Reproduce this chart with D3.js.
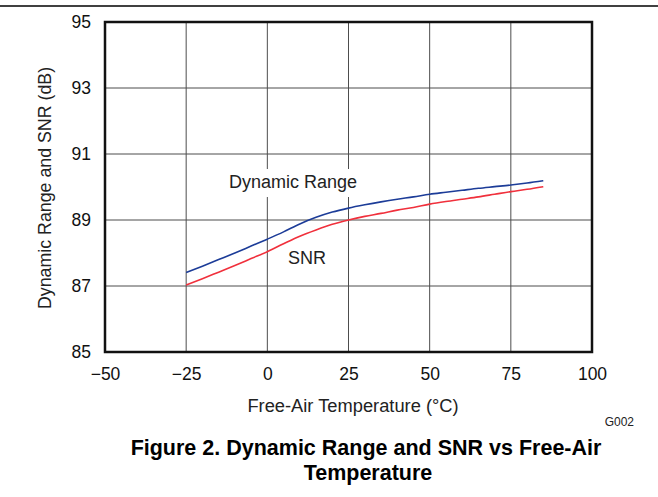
<!DOCTYPE html>
<html><head><meta charset="utf-8">
<script src="https://cdn.jsdelivr.net/npm/d3@7"></script>
<style>body{margin:0;background:#fff}svg{display:block}</style>
</head><body>
<svg id="c" width="658" height="497"></svg>
<script>
const temps = [-25,-20,-15,-10,-5,0,5,10,15,20,25,30,35,40,45,50,55,60,65,70,75,80,85];
const dynamicRange = [87.41,87.6,87.8,88.0,88.21,88.42,88.64,88.88,89.08,89.24,89.36,89.46,89.55,89.63,89.7,89.78,89.84,89.9,89.96,90.01,90.06,90.12,90.19];
const snr = [87.03,87.22,87.42,87.62,87.83,88.04,88.28,88.51,88.7,88.87,89.0,89.11,89.2,89.3,89.38,89.48,89.56,89.63,89.7,89.78,89.86,89.93,90.01];
const xTicks = [-50,-25,0,25,50,75,100];
const yTicks = [85,87,89,91,93,95];

const svg = d3.select("#c");
const F = "'Liberation Sans', Arial, sans-serif";
const L = 105, R = 592, T = 22, B = 352;
const x = d3.scaleLinear().domain([-50,100]).range([L,R]);
const y = d3.scaleLinear().domain([85,95]).range([B,T]);

svg.append("line").attr("x1",0).attr("x2",658).attr("y1",6).attr("y2",6)
  .attr("stroke","#000").attr("stroke-width",1.5);

// grid
svg.append("g").selectAll("line").data(xTicks.slice(1,-1)).join("line")
  .attr("x1",d=>x(d)).attr("x2",d=>x(d)).attr("y1",T).attr("y2",B)
  .attr("stroke","#4d4d4d").attr("stroke-width",1);
svg.append("g").selectAll("line").data(yTicks.slice(1,-1)).join("line")
  .attr("x1",L).attr("x2",R).attr("y1",d=>y(d)).attr("y2",d=>y(d))
  .attr("stroke","#4d4d4d").attr("stroke-width",1);

// axes labels via d3 axes (no lines)
const xa = svg.append("g").attr("transform",`translate(0,${B})`)
  .call(d3.axisBottom(x).tickValues(xTicks).tickSize(0).tickPadding(16)
    .tickFormat(d=>d<0?"\u2212"+Math.abs(d):d));
xa.select(".domain").remove();
xa.selectAll("text").attr("font-family",F).attr("font-size",17.5).attr("fill","#111");
const ya = svg.append("g").attr("transform",`translate(${L},0)`)
  .call(d3.axisLeft(y).tickValues(yTicks).tickSize(0).tickPadding(14));
ya.select(".domain").remove();
ya.selectAll("text").attr("font-family",F).attr("font-size",17.5).attr("fill","#111");

// lines
const line = d3.line().x((d,i)=>x(temps[i])).y(d=>y(d)).curve(d3.curveMonotoneX);
svg.append("path").datum(snr).attr("d",line).attr("fill","none")
  .attr("stroke","#f0303c").attr("stroke-width",1.6);
svg.append("path").datum(dynamicRange).attr("d",line).attr("fill","none")
  .attr("stroke","#1c3c98").attr("stroke-width",1.6);

// frame
svg.append("rect").attr("x",L).attr("y",T).attr("width",R-L).attr("height",B-T)
  .attr("fill","none").attr("stroke","#111").attr("stroke-width",2.5);

// annotations
svg.append("rect").attr("x",224).attr("y",169).attr("width",138).attr("height",28).attr("fill","#fff");
svg.append("text").attr("x",229).attr("y",188).attr("font-family",F).attr("font-size",18).attr("fill","#222").text("Dynamic Range");
svg.append("text").attr("x",288).attr("y",264).attr("font-family",F).attr("font-size",18).attr("fill","#222").text("SNR");

svg.append("text").attr("transform","translate(51,188) rotate(-90)").attr("text-anchor","middle")
  .attr("font-family",F).attr("font-size",17.8).attr("fill","#222").text("Dynamic Range and SNR (dB)");
svg.append("text").attr("x",353).attr("y",412).attr("text-anchor","middle")
  .attr("font-family",F).attr("font-size",18.3).attr("fill","#222").text("Free-Air Temperature (\u00B0C)");
svg.append("text").attr("x",634).attr("y",426).attr("text-anchor","end")
  .attr("font-family",F).attr("font-size",12).attr("fill","#222").text("G002");

svg.append("text").attr("x",366).attr("y",455).attr("text-anchor","middle")
  .attr("font-family",F).attr("font-size",21.5).attr("font-weight","bold").text("Figure 2. Dynamic Range and SNR vs Free-Air");
svg.append("text").attr("x",368).attr("y",480).attr("text-anchor","middle")
  .attr("font-family",F).attr("font-size",21.5).attr("font-weight","bold").text("Temperature");
</script>
</body></html>
